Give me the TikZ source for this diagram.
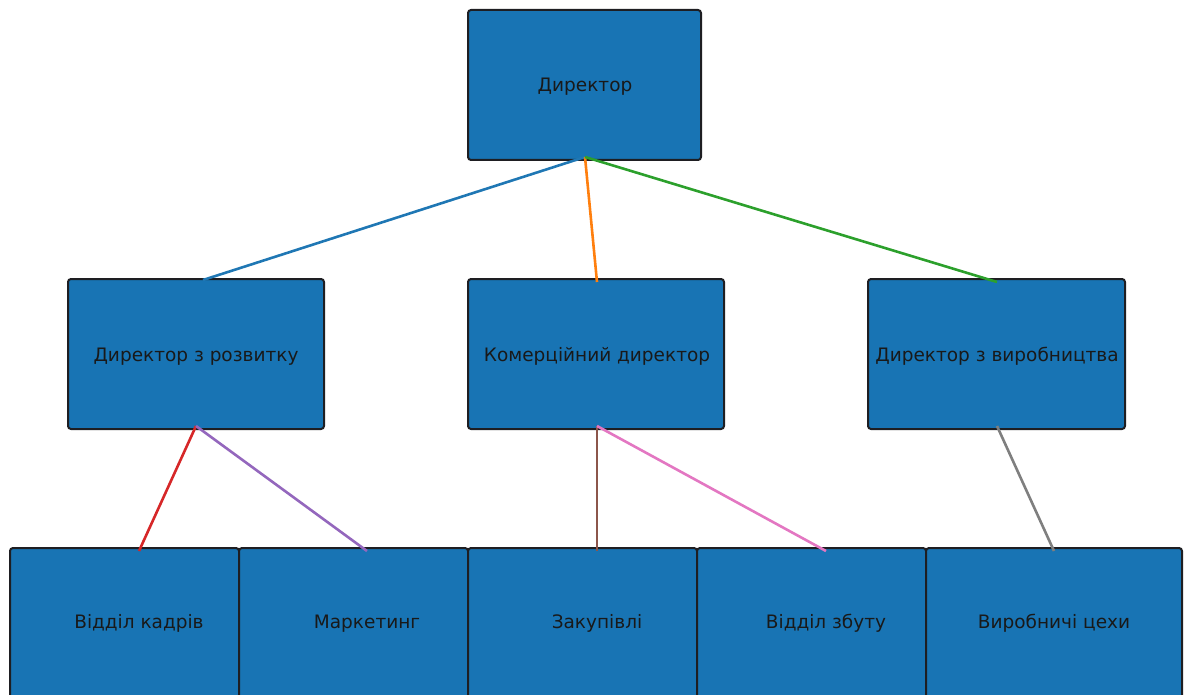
\documentclass[tikz,border=0pt]{standalone}
\usepackage{fontspec}
\setmainfont{DejaVu Sans}
\definecolor{boxfill}{RGB}{24,116,180}
\definecolor{boxedge}{RGB}{30,30,34}
\definecolor{cblue}{HTML}{1F77B4}
\definecolor{corange}{HTML}{FF7F0E}
\definecolor{cgreen}{HTML}{2CA02C}
\definecolor{cred}{HTML}{D62728}
\definecolor{cpurple}{HTML}{9467BD}
\definecolor{cbrown}{HTML}{8C564B}
\definecolor{cpink}{HTML}{E377C2}
\definecolor{cgray}{HTML}{7F7F7F}
\begin{document}
\begin{tikzpicture}[x=1pt,y=-1pt,
  orgbox/.style={draw=boxedge,fill=boxfill,line width=2pt,rounded corners=3pt,
    minimum height=150pt,inner sep=0pt,outer sep=0pt},
  label/.style={font=\fontsize{18.5}{22}\selectfont,text=black!90,inner sep=0pt,anchor=base},
  link/.style={line width=2.6pt}]
\useasboundingbox (0,0) rectangle (1188,695);
\clip (0,0) rectangle (1188,695);
% boxes
\node[orgbox,minimum width=233pt] (dir) at (584.5,85) {};
\node[orgbox,minimum width=256pt] (dev) at (196,354) {};
\node[orgbox,minimum width=256pt] (com) at (596,354) {};
\node[orgbox,minimum width=257pt] (prod) at (996.5,354) {};
\node[orgbox,minimum width=229pt] (hr) at (124.5,623) {};
\node[orgbox,minimum width=229pt] (mkt) at (353.5,623) {};
\node[orgbox,minimum width=229pt] (buy) at (582.5,623) {};
\node[orgbox,minimum width=229pt] (sale) at (811.5,623) {};
\node[orgbox,minimum width=256pt] (shop) at (1054,623) {};
% labels, set on a common baseline per row
\node[label] (tdir) at (585,92) {Директор};
\node[label] (tdev) at (196,361) {Директор з розвитку};
\node[label] (tcom) at (597,361) {Комерційний директор};
\node[label] (tprod) at (997,361) {Директор з виробництва};
\node[label] (thr) at (139,628) {Відділ кадрів};
\node[label] (tmkt) at (367,628) {Маркетинг};
\node[label] (tbuy) at (597,628) {Закупівлі};
\node[label] (tsale) at (826,628) {Відділ збуту};
\node[label] (tshop) at (1054,628) {Виробничі цехи};
% connectors
\coordinate (dirS) at ([yshift=3pt]tdir |- dir.south);
\coordinate (devS) at ([yshift=3pt]tdev |- dev.south);
\coordinate (comS) at ([yshift=3pt]tcom |- com.south);
\coordinate (prodS) at ([yshift=3pt]tprod |- prod.south);
\draw[link,cblue] (dirS) -- ([xshift=7pt,yshift=-1pt]tdev |- dev.north);
\draw[link,corange] (dirS) -- ([yshift=-3pt]tcom |- com.north);
\draw[link,cgreen] (dirS) -- ([yshift=-3pt]tprod |- prod.north);
\draw[link,cred] (devS) -- ([yshift=-3pt]thr |- hr.north);
\draw[link,cpurple] (devS) -- ([yshift=-3pt]tmkt |- mkt.north);
\draw[link,cbrown] (comS) -- ([yshift=-3pt]tbuy |- buy.north);
\draw[link,cpink] (comS) -- ([yshift=-3pt]tsale |- sale.north);
\draw[link,cgray] (prodS) -- ([yshift=-3pt]tshop |- shop.north);
\end{tikzpicture}
\end{document}
